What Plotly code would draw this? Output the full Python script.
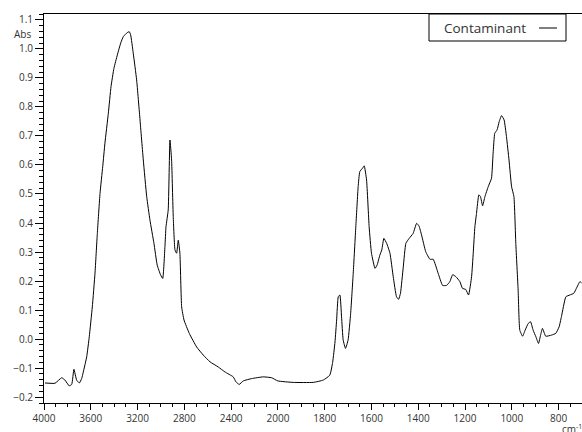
import plotly.graph_objects as go

# Spectrum (wavenumber in cm-1, absorbance)
wavenumber = [3991, 3906, 3849, 3821, 3784, 3763, 3744, 3721, 3698, 3678, 3664, 3635,
              3613, 3587, 3564, 3544, 3521, 3498, 3479, 3450, 3427, 3402, 3373, 3344,
              3322, 3288, 3271, 3259, 3237, 3208, 3179, 3151, 3122, 3094, 3060, 3032,
              3003, 2985, 2966, 2957, 2938, 2923, 2909, 2895, 2880, 2866, 2852, 2838,
              2823, 2803, 2758, 2695, 2638, 2581, 2510, 2453, 2382, 2359, 2331, 2297,
              2225, 2126, 2054, 2000, 1935, 1849, 1806, 1778, 1766, 1756, 1749, 1742,
              1735, 1728, 1721, 1711, 1700, 1689, 1678, 1667, 1657, 1650, 1638, 1631,
              1621, 1610, 1600, 1585, 1576, 1564, 1556, 1547, 1535, 1521, 1507, 1493,
              1484, 1476, 1464, 1453, 1439, 1422, 1407, 1397, 1386, 1368, 1350, 1336,
              1315, 1296, 1279, 1265, 1253, 1239, 1222, 1211, 1197, 1185, 1172, 1165,
              1158, 1151, 1141, 1134, 1125, 1115, 1101, 1087, 1080, 1073, 1063, 1054,
              1044, 1033, 1023, 1012, 1001, 991, 983, 973, 966, 954, 943, 930, 920,
              909, 897, 886, 877, 869, 855, 830, 812, 798, 788, 769, 752, 735, 724,
              709, 702]
absorbance = [-0.151, -0.152, -0.133, -0.141, -0.161, -0.156, -0.104, -0.141, -0.151, -0.136,
              -0.113, -0.061, 0.008, 0.111, 0.227, 0.364, 0.502, 0.594, 0.675, 0.778,
              0.870, 0.933, 0.979, 1.020, 1.042, 1.056, 1.059, 1.048, 0.985, 0.893,
              0.755, 0.617, 0.491, 0.410, 0.330, 0.255, 0.221, 0.209, 0.318, 0.387,
              0.445, 0.686, 0.617, 0.422, 0.307, 0.296, 0.341, 0.296, 0.111, 0.066,
              0.020, -0.027, -0.055, -0.078, -0.096, -0.113, -0.130, -0.147, -0.156, -0.144,
              -0.136, -0.130, -0.133, -0.144, -0.149, -0.149, -0.141, -0.124, -0.080, -0.010,
              0.066, 0.146, 0.152, 0.077, -0.003, -0.032, -0.003, 0.089, 0.227, 0.387,
              0.525, 0.577, 0.589, 0.597, 0.548, 0.387, 0.296, 0.244, 0.255, 0.290,
              0.307, 0.347, 0.330, 0.296, 0.215, 0.146, 0.137, 0.158, 0.249, 0.330,
              0.347, 0.364, 0.399, 0.390, 0.359, 0.301, 0.275, 0.275, 0.227, 0.185,
              0.185, 0.198, 0.222, 0.215, 0.198, 0.175, 0.171, 0.152, 0.215, 0.296,
              0.387, 0.433, 0.497, 0.491, 0.459, 0.491, 0.525, 0.554, 0.640, 0.709,
              0.721, 0.749, 0.770, 0.755, 0.698, 0.617, 0.525, 0.491, 0.330, 0.169,
              0.031, 0.010, 0.031, 0.054, 0.060, 0.031, 0.008, -0.015, 0.014, 0.037,
              0.010, 0.014, 0.020, 0.042, 0.077, 0.146, 0.152, 0.158, 0.175, 0.198,
              0.194]

tick_wavenumbers = [4000, 3600, 3200, 2800, 2400, 2000, 1800, 1600, 1400, 1200, 1000, 800]
tick_labels = [str(t) for t in tick_wavenumbers]
series_name = "Contaminant"

BREAK = 2000  # scale changes (x2 expansion) below 2000 cm-1


def to_pos(w):
    return (4000 - w) / 400 if w >= BREAK else 5 + (BREAK - w) / 200


xpos = [to_pos(w) for w in wavenumber]
tickpos = [to_pos(w) for w in tick_wavenumbers]
XR = [0, to_pos(700)]
YR = [-0.22, 1.12]

FONT = "Open Sans"
TXT = "#333333"

fig = go.Figure()
# invisible helper trace so the minor-tick overlay axes get drawn
fig.add_trace(go.Scatter(x=[XR[0]], y=[YR[0]], xaxis="x2", yaxis="y2", mode="markers",
                         marker=dict(opacity=0), showlegend=False, hoverinfo="skip"))
fig.add_trace(go.Scatter(x=xpos, y=absorbance, mode="lines", name=series_name,
                         line=dict(color="black", width=1, shape="spline", smoothing=0.4),
                         showlegend=False, customdata=wavenumber,
                         hovertemplate="%{customdata} cm-1<br>%{y:.3f}<extra></extra>"))

fig.update_layout(
    width=582, height=432,
    margin=dict(l=44, r=0, t=14, b=29),
    paper_bgcolor="white", plot_bgcolor="white",
    font=dict(family=FONT, size=10, color=TXT),
    xaxis=dict(range=XR, showgrid=False, zeroline=False,
               showline=True, linecolor="black", linewidth=1, mirror=True,
               tickmode="array", tickvals=tickpos, ticktext=tick_labels,
               ticks="outside", ticklen=6, tickcolor="black",
               tickfont=dict(family=FONT, size=10, color=TXT)),
    yaxis=dict(range=YR, showgrid=False, zeroline=False,
               showline=True, linecolor="black", linewidth=1,
               dtick=0.1, tick0=0, tickformat=".1f",
               ticks="outside", ticklen=8, tickcolor="black",
               tickfont=dict(family=FONT, size=10, color=TXT)),
    # minor ticks drawn by overlay axes
    xaxis2=dict(range=XR, overlaying="x", anchor="y", side="bottom", showgrid=False,
                zeroline=False, showline=False, tickmode="linear", tick0=0, dtick=0.25,
                ticks="outside", ticklen=3, tickcolor="black", showticklabels=False),
    yaxis2=dict(range=YR, overlaying="y", anchor="x", side="left", showgrid=False,
                zeroline=False, showline=False, tickmode="linear", tick0=0, dtick=0.02,
                ticks="outside", ticklen=4, tickcolor="black", showticklabels=False),
)

# Legend box (label followed by line sample, as in the reference)
fig.add_shape(type="rect", xref="paper", yref="paper",
              x0=(429 - 44) / 538, x1=(566 - 44) / 538, y0=1 - 27 / 389, y1=1,
              line=dict(color="black", width=1), fillcolor="white", layer="above")
fig.add_annotation(xref="paper", yref="paper", x=(442 - 44) / 538, y=1 - 14 / 389,
                   xanchor="left", yanchor="middle", text=series_name, showarrow=False,
                   font=dict(family=FONT, size=13.5, color=TXT))
fig.add_shape(type="line", xref="paper", yref="paper",
              x0=(539 - 44) / 538, x1=(557 - 44) / 538, y0=1 - 14 / 389, y1=1 - 14 / 389,
              line=dict(color="black", width=1), layer="above")

# Axis unit labels
fig.add_annotation(xref="paper", yref="y", x=0, xshift=-11, y=1.05, xanchor="right",
                   yanchor="middle", text="Abs", showarrow=False,
                   font=dict(family=FONT, size=10, color=TXT))
fig.add_annotation(xref="paper", yref="paper", x=(560 - 44) / 538, y=-17 / 389,
                   xanchor="left", yanchor="top", text="cm<sup>-1</sup>", showarrow=False,
                   font=dict(family=FONT, size=10, color=TXT))

# remove the default 8px page margin so the figure sits at the window's top-left corner
fig.write_html("out.html", config={"displayModeBar": False},
               post_script="document.body.style.margin='0';document.body.style.padding='0';")
